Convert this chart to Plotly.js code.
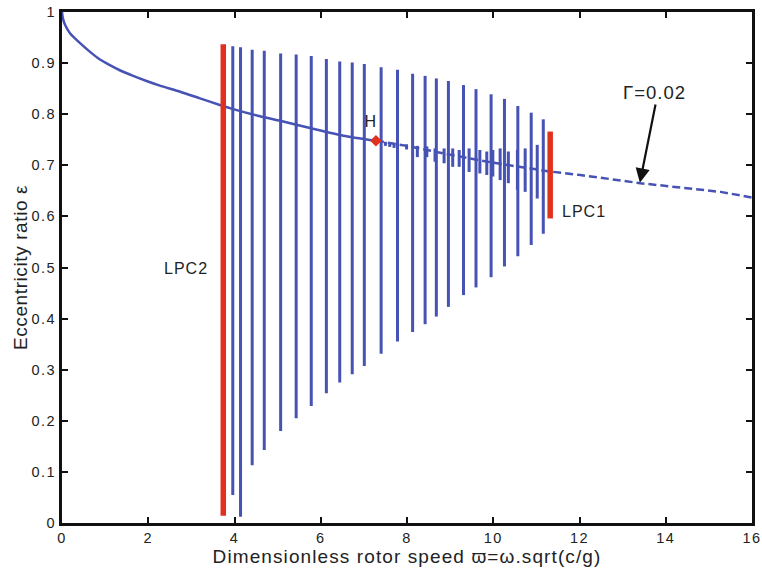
<!DOCTYPE html>
<html>
<head>
<meta charset="utf-8">
<script src="https://cdn.plot.ly/plotly-3.0.1.min.js"></script>
<style>
html,body{margin:0;padding:0;background:#fff;}
#chart{width:762px;height:572px;}
#chart .xtick text, #chart .ytick text{letter-spacing:1.5px;}
#chart text.xtitle{letter-spacing:1.1px;}
#chart text.ytitle{letter-spacing:0.6px;}
#chart text.annotation-text{letter-spacing:1px;}
</style>
</head>
<body>
<div id="chart"></div>
<script>
// Stable equilibrium branch (solid) up to Hopf point H
const stableX = [0, 0.02, 0.07, 0.19, 0.42, 0.65, 0.88, 1.11, 1.34, 1.65, 1.96, 2.27, 2.74, 3.2, 3.66, 3.97, 4.59, 5.06, 5.75, 6.52, 7.28];
const stableY = [1.0, 0.988, 0.975, 0.958, 0.939, 0.922, 0.907, 0.896, 0.886, 0.875, 0.865, 0.856, 0.844, 0.831, 0.818, 0.810, 0.796, 0.787, 0.773, 0.758, 0.748];
// Unstable equilibrium branch (dashed) after H
const unstableX = [7.28, 8.0, 8.86, 10.0, 11.3, 12.02, 13.41, 15.27, 16.0];
const unstableY = [0.748, 0.738, 0.723, 0.705, 0.688, 0.681, 0.665, 0.648, 0.637];
// Large periodic orbits: speed, max and min eccentricity
const orbitX   = [3.96, 4.14, 4.41, 4.69, 5.07, 5.43, 5.78, 6.13, 6.44, 6.73, 7.01, 7.40, 7.78, 8.13, 8.42, 8.68, 8.96, 9.31, 9.60, 9.95, 10.26, 10.57, 10.88, 11.16];
const orbitMax = [0.933, 0.931, 0.926, 0.924, 0.919, 0.917, 0.914, 0.908, 0.903, 0.901, 0.898, 0.892, 0.887, 0.879, 0.875, 0.870, 0.865, 0.857, 0.849, 0.839, 0.830, 0.816, 0.803, 0.790];
const orbitMin = [0.055, 0.012, 0.113, 0.143, 0.180, 0.205, 0.229, 0.254, 0.275, 0.291, 0.307, 0.331, 0.355, 0.374, 0.389, 0.404, 0.423, 0.446, 0.461, 0.481, 0.502, 0.522, 0.544, 0.566];
// Small unstable periodic orbits near the equilibrium curve
const smallX   = [7.50, 7.60, 7.70, 7.99, 8.24, 8.46, 8.65, 8.86, 9.06, 9.21, 9.44, 9.69, 9.85, 9.99, 10.16, 10.35, 10.56, 10.74, 11.02];
const smallMax = [0.746, 0.745, 0.743, 0.741, 0.738, 0.737, 0.733, 0.733, 0.733, 0.730, 0.733, 0.730, 0.727, 0.730, 0.733, 0.727, 0.730, 0.733, 0.740];
const smallMin = [0.738, 0.736, 0.734, 0.731, 0.716, 0.716, 0.707, 0.704, 0.697, 0.697, 0.687, 0.684, 0.681, 0.678, 0.671, 0.665, 0.652, 0.648, 0.635];
// Limit points of cycles
const lpcNames = ["LPC2", "LPC1"];
const lpcX   = [3.74, 11.32];
const lpcMax = [0.937, 0.766];
const lpcMin = [0.014, 0.596];
// Hopf point
const hopfX = [7.28];
const hopfY = [0.748];

function segs(xs, tops, bots) {
  const x = [], y = [];
  for (let i = 0; i < xs.length; i++) {
    x.push(xs[i], xs[i], null);
    y.push(tops[i], bots[i], null);
  }
  return {x, y};
}

const blue = "#4652b4";
const red = "#e0301e";
const big = segs(orbitX, orbitMax, orbitMin);
const small = segs(smallX, smallMax, smallMin);
const lpc = segs(lpcX, lpcMax, lpcMin);

const traces = [
  {x: big.x, y: big.y, mode: "lines", line: {color: blue, width: 3}, connectgaps: false, hoverinfo: "skip"},
  {x: small.x, y: small.y, mode: "lines", line: {color: blue, width: 3}, connectgaps: false, hoverinfo: "skip"},
  {x: stableX, y: stableY, mode: "lines", line: {color: blue, width: 2.5, shape: "spline", smoothing: 0.6}},
  {x: unstableX, y: unstableY, mode: "lines", line: {color: blue, width: 2.5, dash: "8px,4px"}},
  {x: lpc.x, y: lpc.y, mode: "lines", line: {color: red, width: 5.5}, connectgaps: false},
  {x: hopfX, y: hopfY, mode: "markers", marker: {color: red, size: 9, symbol: "diamond"}}
];

const font = "Liberation Sans, Arial, Helvetica, sans-serif";
const layout = {
  width: 762, height: 572,
  margin: {l: 62, r: 10, t: 12, b: 49},
  paper_bgcolor: "#fff", plot_bgcolor: "#fff",
  showlegend: false,
  font: {family: font, size: 14, color: "#222"},
  xaxis: {
    range: [0, 16], dtick: 2, tick0: 0,
    showgrid: false, zeroline: false,
    showline: true, mirror: "ticks", linecolor: "#111", linewidth: 3,
    ticks: "inside", ticklen: 6, tickwidth: 2, tickcolor: "#111",
    tickfont: {family: font, size: 14.5, color: "#222"},
    title: {text: "Dimensionless rotor speed ϖ=ω.sqrt(c/g)", font: {family: font, size: 19, color: "#222"}, standoff: 2}
  },
  yaxis: {
    range: [0, 1], dtick: 0.1, tick0: 0,
    showgrid: false, zeroline: false,
    showline: true, mirror: "ticks", linecolor: "#111", linewidth: 3,
    ticks: "inside", ticklen: 6, tickwidth: 2, tickcolor: "#111",
    tickfont: {family: font, size: 14.5, color: "#222"},
    title: {text: "Eccentricity ratio ε", font: {family: font, size: 19, color: "#222"}, standoff: 4}
  },
  annotations: [
    {x: 7.17, y: 0.785, xref: "x", yref: "y", text: "H", showarrow: false, font: {family: font, size: 16, color: "#222"}},
    {x: 2.88, y: 0.499, xref: "x", yref: "y", text: lpcNames[0], showarrow: false, font: {family: font, size: 16, color: "#222"}},
    {x: 12.1, y: 0.609, xref: "x", yref: "y", text: lpcNames[1], showarrow: false, font: {family: font, size: 16, color: "#222"}},
    {x: 13.73, y: 0.843, xref: "x", yref: "y", text: "Γ=0.02", showarrow: false, font: {family: font, size: 18.5, color: "#222"}},
    {x: 13.4, y: 0.666, xref: "x", yref: "y", ax: 13.77, ay: 0.822, axref: "x", ayref: "y",
     text: "", showarrow: true, arrowhead: 2, arrowsize: 1.3, arrowwidth: 2.2, arrowcolor: "#111"}
  ]
};

Plotly.newPlot("chart", traces, layout, {displayModeBar: false, staticPlot: true});
</script>
</body>
</html>
